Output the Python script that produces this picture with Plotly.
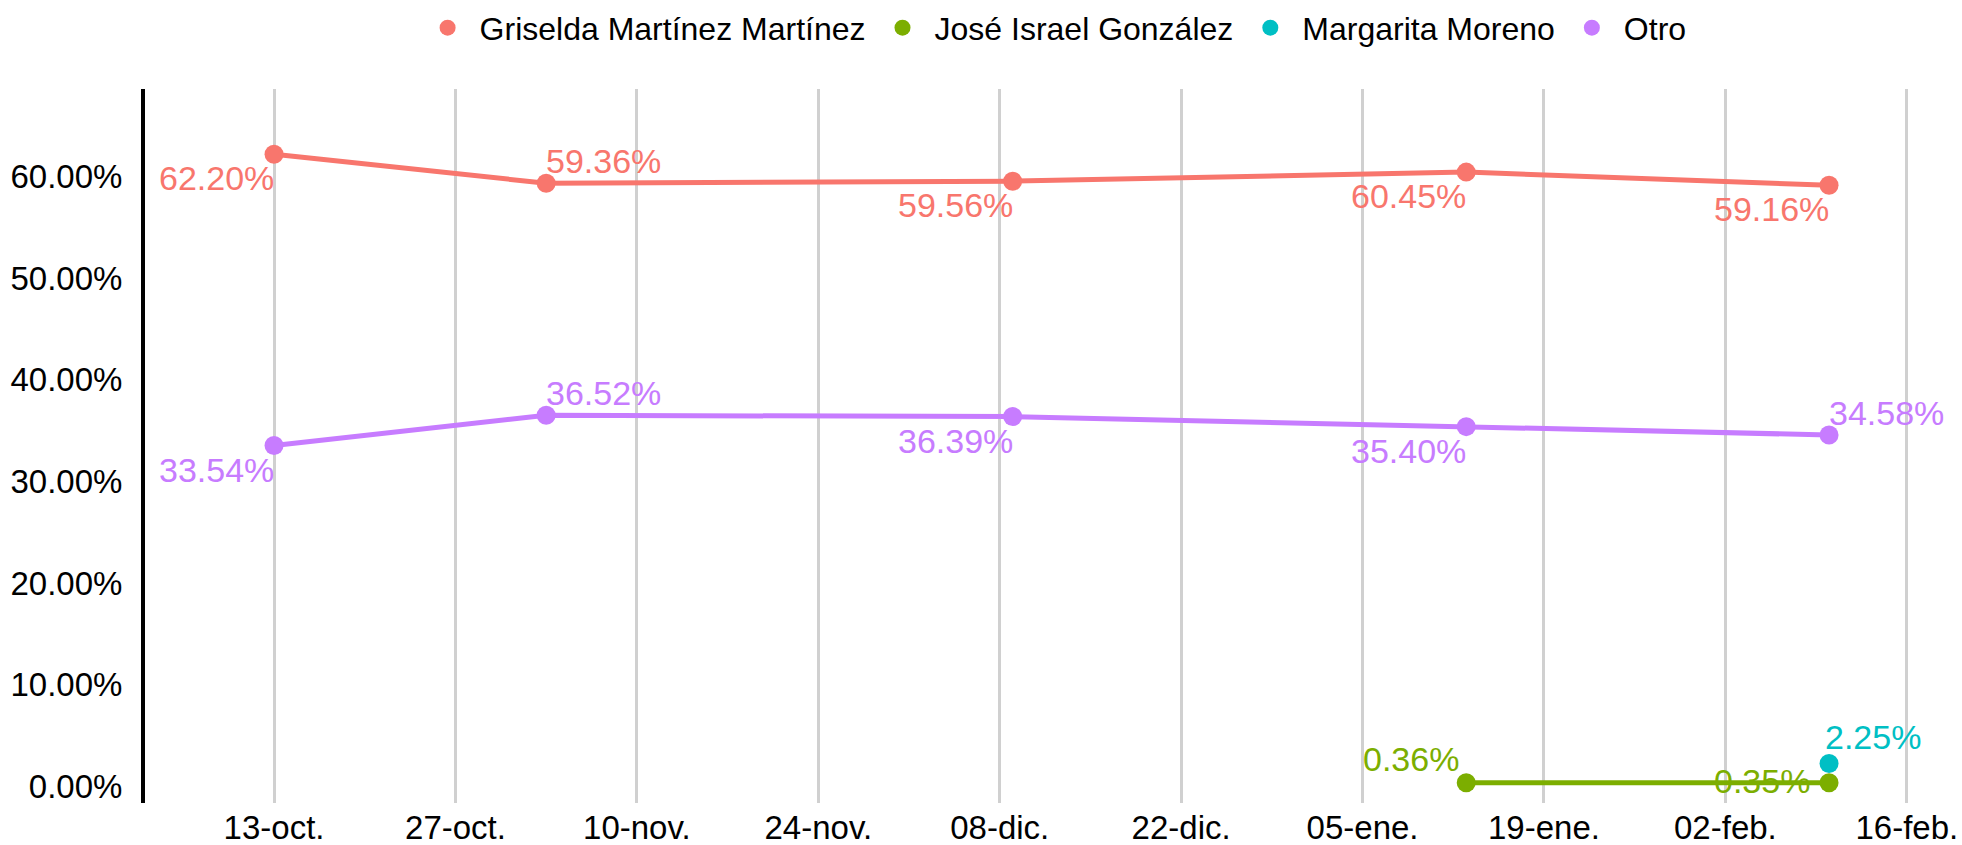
import plotly.graph_objects as go

# ---- data ----
poll_dates = ["2019-10-13", "2019-11-03", "2019-12-09", "2020-01-13", "2020-02-10"]
griselda = [0.6220, 0.5936, 0.5956, 0.6045, 0.5916]
otro = [0.3354, 0.3652, 0.3639, 0.3540, 0.3458]
jose_dates = ["2020-01-13", "2020-02-10"]
jose = [0.0036, 0.0035]
margarita_dates = ["2020-02-10"]
margarita = [0.0225]

tick_dates = ["2019-10-13", "2019-10-27", "2019-11-10", "2019-11-24", "2019-12-08",
              "2019-12-22", "2020-01-05", "2020-01-19", "2020-02-02", "2020-02-16"]
tick_labels = ["13-oct.", "27-oct.", "10-nov.", "24-nov.", "08-dic.",
               "22-dic.", "05-ene.", "19-ene.", "02-feb.", "16-feb."]
y_ticks = [0, 0.1, 0.2, 0.3, 0.4, 0.5, 0.6]

names = ["Griselda Martínez Martínez", "José Israel González", "Margarita Moreno", "Otro"]
colors = ["#F8766D", "#7CAE00", "#00BFC4", "#C77CFF"]

# ---- label placement (style only) ----
BL = ("right", 1, -24)   # below-left of point
TR = ("left", -1, 22)    # above-right of point
griselda_pos = [BL, TR, BL, BL, BL]
otro_pos = [BL, TR, BL, BL, TR]
jose_pos = [("right", -6, 24), ("right", -18, 2)]
margarita_pos = [("left", -5, 26)]

series = [
    (names[0], poll_dates, griselda, colors[0], griselda_pos),
    (names[1], jose_dates, jose, colors[1], jose_pos),
    (names[2], margarita_dates, margarita, colors[2], margarita_pos),
    (names[3], poll_dates, otro, colors[3], otro_pos),
]

FONT = "Liberation Sans, Arial, sans-serif"

fig = go.Figure()
annotations = []
for name, xs, ys, col, pos in series:
    fig.add_trace(go.Scatter(
        x=xs, y=ys, mode="lines+markers", name=name, showlegend=False,
        line=dict(color=col, width=5),
        marker=dict(color=col, size=19),
        cliponaxis=False, hoverinfo="skip",
    ))
    for xv, yv, (xa, dx, dy) in zip(xs, ys, pos):
        annotations.append(dict(
            x=xv, y=yv, xref="x", yref="y", text=f"{yv*100:.2f}%",
            showarrow=False, xanchor=xa, yanchor="middle",
            xshift=dx, yshift=dy, borderpad=0,
            font=dict(color=col, size=34, family=FONT),
        ))
# legend entries (points only, as in the reference)
for name, col in zip(names, colors):
    fig.add_trace(go.Scatter(x=[None], y=[None], mode="markers", name=name,
                             marker=dict(color=col, size=20)))

fig.update_layout(
    width=1962, height=845,
    paper_bgcolor="white", plot_bgcolor="white",
    margin=dict(l=145, r=12, t=89, b=42, autoexpand=False),
    font=dict(family=FONT, size=33, color="black"),
    showlegend=True,
    legend=dict(orientation="h", x=0.537, xanchor="center", xref="container",
                y=0.967, yref="container", yanchor="middle",
                font=dict(size=32, color="black"), itemsizing="trace",
                itemwidth=54),
    annotations=annotations,
)
fig.update_xaxes(
    type="date",
    range=["2019-10-03 01:00", "2020-02-19 08:00"],
    tickvals=tick_dates, ticktext=tick_labels,
    showgrid=True, gridcolor="#d0d0d0", gridwidth=3,
    showline=False, zeroline=False, ticks="", ticklabelstandoff=2,
    tickfont=dict(size=33, color="black", family=FONT),
)
fig.update_yaxes(
    range=[-0.0164, 0.6863],
    tickvals=y_ticks, tickformat=".2%",
    showgrid=False, zeroline=False,
    showline=True, linecolor="black", linewidth=4,
    ticks="", ticklabelstandoff=12,
    tickfont=dict(size=33, color="black", family=FONT),
)

fig.write_html("out.html",
               config={"displayModeBar": False},
               post_script="document.body.style.margin='0';"
                           "document.body.style.overflow='hidden';")
